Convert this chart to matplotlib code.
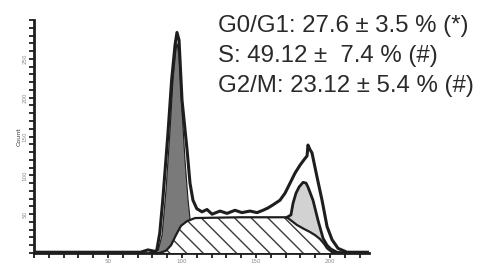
import matplotlib
matplotlib.use("Agg")
import matplotlib.pyplot as plt

# DNA content histogram (channels)
total_x = [1, 45, 72, 77, 82, 83, 85, 87, 90.5, 93, 95.3, 96.6, 98, 100, 103.4, 105.4, 107.4,
           110, 113.5, 116.9, 120.3, 125.7, 130.4, 135.8, 140.5, 145.9, 150.7, 154.7, 158.1,
           161.5, 166.2, 169.6, 173, 176.4, 179.7, 182.4, 184.5, 185.1, 186.5, 187.8, 191.2,
           194.6, 198, 201.4, 205.4, 211.5, 226]
total_y = [1, 1, 1, 4, 2, 4, 26, 68, 154, 223, 268, 284, 274, 197, 133, 90, 68,
           57, 53, 56, 50, 54, 51, 55, 52, 54, 52, 55, 58,
           62, 68, 77, 90, 103, 113, 120, 125, 139, 133, 129, 98,
           68, 34, 17, 6, 1, 1]

g1_x = [78, 84, 86.5, 89.2, 91.9, 93.9, 95.9, 96.6, 98, 100, 102, 104.1, 106.1, 108.8, 112.2, 119]
g1_y = [0, 4, 23, 81, 158, 223, 262, 270, 255, 184, 120, 68, 32, 10, 1, 0]

s_x = [85, 89.2, 92.6, 95.9, 99.3, 103.4, 108.8, 139.2, 170.9, 174.3, 177.7, 182.4, 186.5,
       189.9, 193.2, 195.9, 198, 201.4, 207]
s_y = [0, 3, 10, 23, 35, 41, 45, 46, 46, 41, 36, 31, 27, 23, 18, 12, 6, 1, 0]

g2_x = [170.9, 173.6, 175, 177, 179.1, 181.8, 183.8, 185.1, 188.5, 191.9, 195.3, 198, 200.7,
        204.7, 210]
g2_y = [46, 49, 64, 77, 85, 91, 90, 85, 68, 42, 19, 10, 5, 1, 0]

stats = ["G0/G1: 27.6 \u00b1 3.5 % (*)",
         "S: 49.12 \u00b1  7.4 % (#)",
         "G2/M: 23.12 \u00b1 5.4 % (#)"]

INK = "#1e1e1e"
plt.rcParams["hatch.linewidth"] = 1.0
plt.rcParams["hatch.color"] = "#3a3a3a"

W, H = 496, 270
fig = plt.figure(figsize=(W / 100, H / 100), dpi=100)
ax = fig.add_axes([34 / W, 17 / H, 334.5 / W, 233 / H])
ax.set_xlim(0, 226)
ax.set_ylim(0, 300)

# G1 component (dark)
ax.fill(g1_x, g1_y, facecolor="#7a7a7a", edgecolor=INK, linewidth=0.8, zorder=2)
# S phase (hatched), drawn over the G1 foot
ax.fill(s_x, s_y, facecolor="white", edgecolor="#3a3a3a", hatch="\\\\", linewidth=0, zorder=3)
ax.plot(s_x, s_y, color=INK, linewidth=1.6, zorder=5)
# G2/M component stacked on top of S
poly_x = g2_x + s_x[::-1][:12]
poly_y = g2_y + s_y[::-1][:12]
ax.fill(poly_x, poly_y, facecolor="#d2d2d2", edgecolor="none", zorder=4)
ax.plot(g2_x, g2_y, color=INK, linewidth=2.0, zorder=5)
# measured histogram
ax.plot(total_x, total_y, color=INK, linewidth=2.2, zorder=6)

for side in ["top", "right"]:
    ax.spines[side].set_visible(False)
for side in ["left", "bottom"]:
    ax.spines[side].set_linewidth(2.0)
    ax.spines[side].set_color(INK)

ax.set_xticks(range(0, 227, 10), minor=True)
ax.set_xticks([50, 100, 150, 200])
ax.set_xticklabels(["50", "100", "150", "200"], fontsize=4, color="#888888")
ax.set_yticks(range(0, 301, 10), minor=True)
ax.set_yticks([50, 100, 150, 200, 250])
ax.set_yticklabels(["50", "100", "150", "200", "250"], fontsize=4, color="#888888", rotation=90, va="center")
ax.tick_params(axis="both", which="both", direction="out", length=3.5, width=1.3, color=INK, pad=1)
ax.set_ylabel("Count", fontsize=4.5, color="#333333", labelpad=1)

for i, line in enumerate(stats):
    fig.text(218 / W, 1 - (32 + 30 * i) / H, line, fontsize=17.3, color="#2a2a2a",
             family="Liberation Sans", ha="left", va="baseline")

fig.savefig("out.png", dpi=100)
